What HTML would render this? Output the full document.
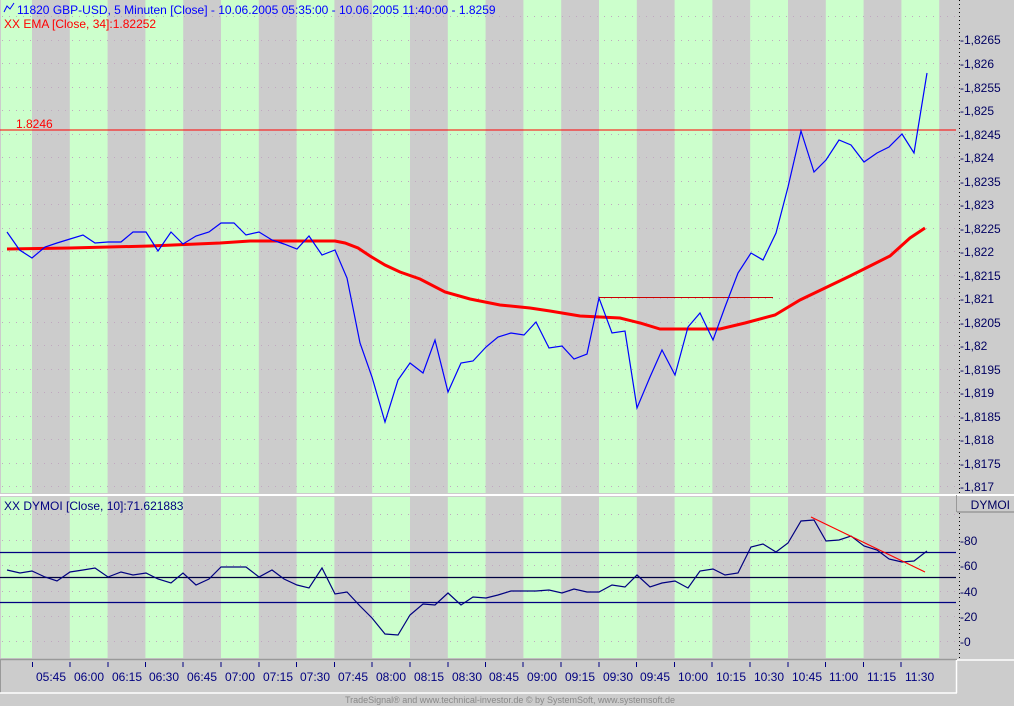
<!DOCTYPE html>
<html><head><meta charset="utf-8"><style>
html,body{margin:0;padding:0;background:#cccccc}
svg{display:block;font-family:"Liberation Sans",sans-serif}
</style></head><body>
<svg width="1014" height="706" viewBox="0 0 1014 706" xmlns="http://www.w3.org/2000/svg">
<rect x="0" y="0" width="1014" height="706" fill="#cccccc"/>
<!-- upper panel -->
<rect x="1" y="0" width="955" height="493" fill="#ccffcc"/>
<rect x="1" y="497" width="955" height="161" fill="#ccffcc"/>
<g fill="#cccccc">
<rect x="32" y="0" width="37.8" height="493"/><rect x="107.6" y="0" width="37.8" height="493"/><rect x="183.2" y="0" width="37.8" height="493"/><rect x="258.8" y="0" width="37.8" height="493"/><rect x="334.4" y="0" width="37.8" height="493"/><rect x="410" y="0" width="37.8" height="493"/><rect x="485.6" y="0" width="37.8" height="493"/><rect x="561.2" y="0" width="37.8" height="493"/><rect x="636.8" y="0" width="37.8" height="493"/><rect x="712.4" y="0" width="37.8" height="493"/><rect x="788" y="0" width="37.8" height="493"/><rect x="863.6" y="0" width="37.8" height="493"/><rect x="939.2" y="0" width="17" height="493"/>
<rect x="32" y="497" width="37.8" height="161"/><rect x="107.6" y="497" width="37.8" height="161"/><rect x="183.2" y="497" width="37.8" height="161"/><rect x="258.8" y="497" width="37.8" height="161"/><rect x="334.4" y="497" width="37.8" height="161"/><rect x="410" y="497" width="37.8" height="161"/><rect x="485.6" y="497" width="37.8" height="161"/><rect x="561.2" y="497" width="37.8" height="161"/><rect x="636.8" y="497" width="37.8" height="161"/><rect x="712.4" y="497" width="37.8" height="161"/><rect x="788" y="497" width="37.8" height="161"/><rect x="863.6" y="497" width="37.8" height="161"/><rect x="939.2" y="497" width="17" height="161"/>
</g>
<line x1="0" y1="495" x2="1014" y2="495" stroke="#ffffff" stroke-width="2"/>
<!-- grid dotted -->
<g stroke="#c0a8c0" stroke-width="1" stroke-dasharray="1,6">
<line x1="2" y1="16.5" x2="956" y2="16.5"/><line x1="2" y1="40.5" x2="956" y2="40.5"/><line x1="2" y1="63.5" x2="956" y2="63.5"/><line x1="2" y1="87.5" x2="956" y2="87.5"/><line x1="2" y1="110.5" x2="956" y2="110.5"/><line x1="2" y1="134.5" x2="956" y2="134.5"/><line x1="2" y1="157.5" x2="956" y2="157.5"/><line x1="2" y1="181.5" x2="956" y2="181.5"/><line x1="2" y1="204.5" x2="956" y2="204.5"/><line x1="2" y1="228.5" x2="956" y2="228.5"/><line x1="2" y1="251.5" x2="956" y2="251.5"/><line x1="2" y1="275.5" x2="956" y2="275.5"/><line x1="2" y1="298.5" x2="956" y2="298.5"/><line x1="2" y1="322.5" x2="956" y2="322.5"/><line x1="2" y1="345.5" x2="956" y2="345.5"/><line x1="2" y1="369.5" x2="956" y2="369.5"/><line x1="2" y1="392.5" x2="956" y2="392.5"/><line x1="2" y1="416.5" x2="956" y2="416.5"/><line x1="2" y1="439.5" x2="956" y2="439.5"/><line x1="2" y1="463.5" x2="956" y2="463.5"/><line x1="2" y1="486.5" x2="956" y2="486.5"/>
<line x1="2" y1="514.5" x2="956" y2="514.5"/><line x1="2" y1="540.5" x2="956" y2="540.5"/><line x1="2" y1="565.5" x2="956" y2="565.5"/><line x1="2" y1="591.5" x2="956" y2="591.5"/><line x1="2" y1="616.5" x2="956" y2="616.5"/><line x1="2" y1="641.5" x2="956" y2="641.5"/>
</g>
<!-- 1.8246 line -->
<line x1="0" y1="130" x2="956" y2="130" stroke="#ff0000" stroke-width="1"/>
<text x="16" y="128" font-size="12" fill="#ff0000">1.8246</text>
<line x1="599" y1="297.5" x2="773" y2="297.5" stroke="#cc0000" stroke-width="1"/>
<!-- EMA -->
<polyline fill="none" stroke="#ff0000" stroke-width="3" points="7,249 70,248 150,246 220,243 250,241 335,241 345,243 358,248 370,256 385,265 400,272 420,279 445,292 470,299 500,305 530,308 550,311 580,316 620,318 640,323 660,329 690,329 720,329 745,323 775,315 800,300 825,288 850,276 870,266 890,256 910,238 925,228"/>
<!-- price -->
<polyline fill="none" stroke="#0000ff" stroke-width="1.2" points="7,232 19.6,250 32,258 45,247 57,243 70,239 83,235 95,243 108,242 121,242 133,232 146,232 158,251 171,232 183,244 196,236 209,232 221,223 234,223 246,235 259,232 272,240 284,244 297,249 309,236 322,255 335,250 347,278 360,343 372,377 385,422 398,380 410,363 423,373 435,340 448,392 461,363 473,361 486,347 498,337 511,333 524,335 536,322 549,348 562,346 574,359 587,354 599,298 612,333 625,331 637,408 650,377 662,350 675,375 688,327 700,313 713,340 725,307 738,273 751,253 763,260 776,233 788,187 801,131 814,172 826,160 839,140 851,145 864,162 877,153 889,147 902,134 914,153 927,73"/>
<!-- lower lines -->
<line x1="0" y1="552.5" x2="956" y2="552.5" stroke="#000080" stroke-width="1.2"/>
<line x1="0" y1="577.5" x2="956" y2="577.5" stroke="#000040" stroke-width="1.2"/>
<line x1="0" y1="602.5" x2="956" y2="602.5" stroke="#000080" stroke-width="1.2"/>
<polyline fill="none" stroke="#000080" stroke-width="1.2" points="7,570 20,573 32,571 45,577 57,581 70,572 83,570 95,568 108,577 121,572 133,575 146,573 158,579 171,583 183,573 196,585 209,579 221,567 234,567 246,567 259,577 272,570 284,579 297,585 309,588 322,568 335,594 347,592 360,606 372,618 385,634 398,635 410,615 423,604 435,605 448,593 461,605 473,597 486,598 498,595 511,591 524,591 536,591 549,590 562,593 574,589 587,592 599,592 612,585 625,587 637,575 650,587 662,583 675,581 688,588 700,571 713,569 725,575 738,573 751,547 763,544 776,552 788,543 801,521 814,520 826,541 839,540 851,536 864,546 877,550 889,559 902,562 914,561 927,551"/>
<line x1="811" y1="517" x2="925" y2="572" stroke="#ff0000" stroke-width="1.2"/>
<!-- titles -->
<polyline points="4,12 7,6 10,9 14,3" fill="none" stroke="#0000ff" stroke-width="1"/>
<text x="17" y="14" font-size="12" fill="#0000ff">11820  GBP-USD, 5 Minuten [Close] - 10.06.2005 05:35:00 - 10.06.2005 11:40:00 - 1.8259</text>
<text x="4" y="28" font-size="12" fill="#ff0000">XX EMA [Close, 34]:1.82252</text>
<text x="4" y="510" font-size="12" fill="#000080">XX DYMOI [Close, 10]:71.621883</text>
<!-- right axis -->
<rect x="957" y="0" width="57" height="706" fill="#cccccc"/>
<line x1="959.5" y1="0" x2="959.5" y2="494" stroke="#000" stroke-dasharray="1,3"/>
<line x1="959.5" y1="513" x2="959.5" y2="660" stroke="#000" stroke-dasharray="1,3"/>
<line x1="957" y1="495" x2="1014" y2="495" stroke="#fff" stroke-width="2"/>
<line x1="957" y1="512" x2="1014" y2="512" stroke="#999" stroke-width="1.5"/>
<line x1="956.5" y1="495" x2="956.5" y2="512" stroke="#999"/>
<line x1="957" y1="660" x2="1014" y2="660" stroke="#fff" stroke-width="1.5"/>
<text x="1010" y="509" font-size="12" fill="#000060" text-anchor="end">DYMOI</text>
<g font-size="12" fill="#000060">
<text x="960" y="44">-1,8265</text><text x="960" y="68">-1,826</text><text x="960" y="92">-1,8255</text><text x="960" y="115">-1,825</text><text x="960" y="139">-1,8245</text><text x="960" y="162">-1,824</text><text x="960" y="186">-1,8235</text><text x="960" y="209">-1,823</text><text x="960" y="233">-1,8225</text><text x="960" y="256">-1,822</text><text x="960" y="280">-1,8215</text><text x="960" y="303">-1,821</text><text x="960" y="327">-1,8205</text><text x="960" y="350">-1,82</text><text x="960" y="374">-1,8195</text><text x="960" y="397">-1,819</text><text x="960" y="421">-1,8185</text><text x="960" y="444">-1,818</text><text x="960" y="468">-1,8175</text><text x="960" y="491">-1,817</text>
<text x="960" y="545">-80</text><text x="960" y="570">-60</text><text x="960" y="596">-40</text><text x="960" y="621">-20</text><text x="960" y="646">-0</text>
</g>
<!-- x axis -->
<rect x="0" y="659" width="957" height="34" fill="#cccccc"/>
<line x1="0" y1="659.5" x2="957" y2="659.5" stroke="#999" stroke-width="1.5"/>
<line x1="0.5" y1="659" x2="0.5" y2="693" stroke="#999"/>
<line x1="0" y1="693" x2="957" y2="693" stroke="#fff" stroke-width="1.5"/>
<line x1="956.5" y1="660" x2="956.5" y2="693" stroke="#fff" stroke-width="1.5"/>
<g stroke="#000080" stroke-width="1">
<line x1="32.5" y1="662" x2="32.5" y2="667"/><line x1="70" y1="662" x2="70" y2="667"/><line x1="108" y1="662" x2="108" y2="667"/><line x1="145.5" y1="662" x2="145.5" y2="667"/><line x1="183" y1="662" x2="183" y2="667"/><line x1="221" y1="662" x2="221" y2="667"/><line x1="259" y1="662" x2="259" y2="667"/><line x1="296.5" y1="662" x2="296.5" y2="667"/><line x1="334.5" y1="662" x2="334.5" y2="667"/><line x1="372" y1="662" x2="372" y2="667"/><line x1="410" y1="662" x2="410" y2="667"/><line x1="448" y1="662" x2="448" y2="667"/><line x1="485.5" y1="662" x2="485.5" y2="667"/><line x1="523" y1="662" x2="523" y2="667"/><line x1="561" y1="662" x2="561" y2="667"/><line x1="599" y1="662" x2="599" y2="667"/><line x1="636.5" y1="662" x2="636.5" y2="667"/><line x1="674.5" y1="662" x2="674.5" y2="667"/><line x1="712" y1="662" x2="712" y2="667"/><line x1="750" y1="662" x2="750" y2="667"/><line x1="788" y1="662" x2="788" y2="667"/><line x1="825.5" y1="662" x2="825.5" y2="667"/><line x1="863.5" y1="662" x2="863.5" y2="667"/><line x1="901" y1="662" x2="901" y2="667"/>
</g>
<g font-size="12" fill="#000080">
<text x="36" y="681">05:45</text><text x="74" y="681">06:00</text><text x="112" y="681">06:15</text><text x="149" y="681">06:30</text><text x="187" y="681">06:45</text><text x="225" y="681">07:00</text><text x="263" y="681">07:15</text><text x="300" y="681">07:30</text><text x="338" y="681">07:45</text><text x="376" y="681">08:00</text><text x="414" y="681">08:15</text><text x="452" y="681">08:30</text><text x="489" y="681">08:45</text><text x="527" y="681">09:00</text><text x="565" y="681">09:15</text><text x="603" y="681">09:30</text><text x="640" y="681">09:45</text><text x="678" y="681">10:00</text><text x="716" y="681">10:15</text><text x="754" y="681">10:30</text><text x="792" y="681">10:45</text><text x="829" y="681">11:00</text><text x="867" y="681">11:15</text><text x="905" y="681">11:30</text>
</g>
<text x="510" y="703" font-size="9" fill="#888888" text-anchor="middle">TradeSignal® and www.technical-investor.de © by SystemSoft, www.systemsoft.de</text>
</svg>
</body></html>
